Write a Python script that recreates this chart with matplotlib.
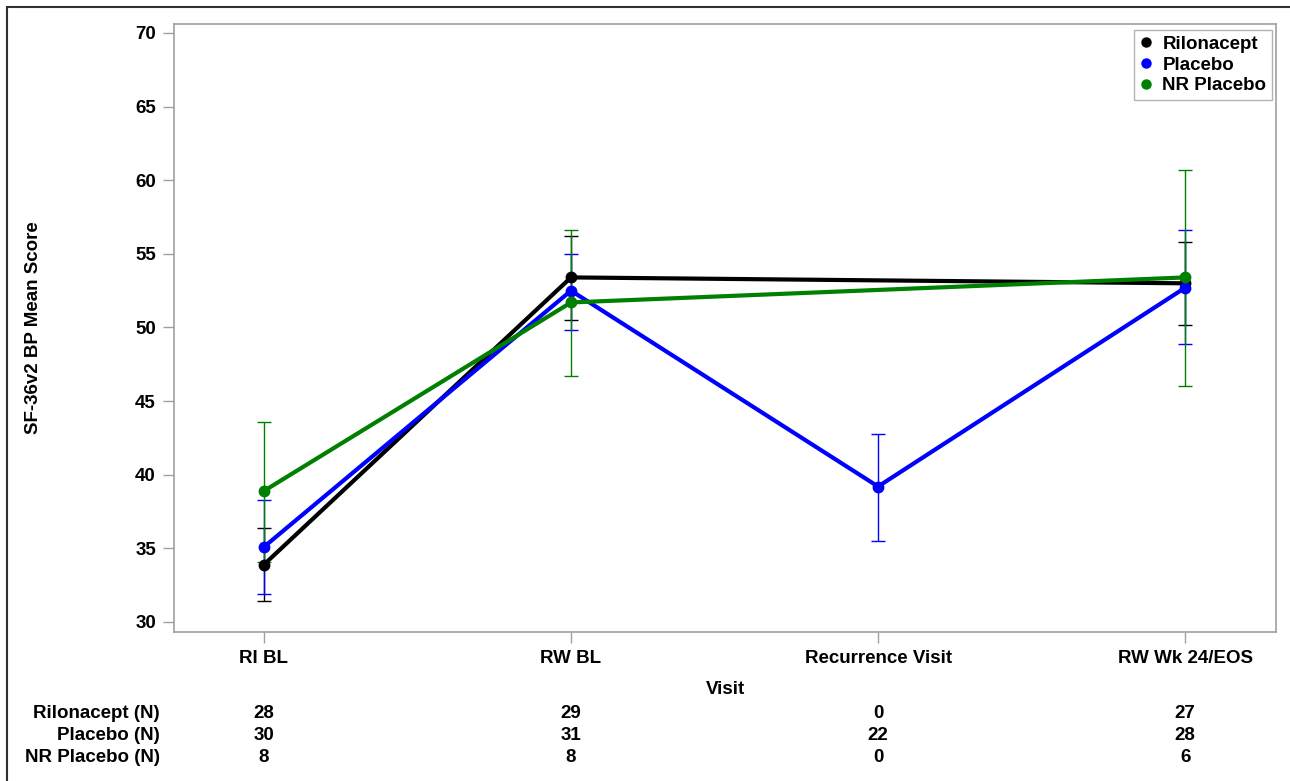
import numpy as np
import matplotlib
matplotlib.use("Agg")
import matplotlib.pyplot as plt
from matplotlib.patches import Rectangle
from matplotlib.lines import Line2D

plt.rcParams['font.family'] = ['Liberation Sans', 'DejaVu Sans']
plt.rcParams['font.weight'] = 'bold'

visits = ["RI BL", "RW BL", "Recurrence Visit", "RW Wk 24/EOS"]
groups = ["Rilonacept", "Placebo", "NR Placebo"]
colors = ["#000000", "#0000ff", "#008000"]

rilonacept_mean = [33.9, 53.4, np.nan, 53.0]
rilonacept_low = [31.4, 50.5, np.nan, 50.2]
rilonacept_high = [36.4, 56.2, np.nan, 55.8]

placebo_mean = [35.1, 52.5, 39.2, 52.7]
placebo_low = [31.9, 49.8, 35.5, 48.9]
placebo_high = [38.3, 55.0, 42.8, 56.6]

nr_placebo_mean = [38.9, 51.7, np.nan, 53.4]
nr_placebo_low = [34.1, 46.7, np.nan, 46.0]
nr_placebo_high = [43.6, 56.6, np.nan, 60.7]

rilonacept_n = [28, 29, 0, 27]
placebo_n = [30, 31, 22, 28]
nr_placebo_n = [8, 8, 0, 6]

means = [rilonacept_mean, placebo_mean, nr_placebo_mean]
lows = [rilonacept_low, placebo_low, nr_placebo_low]
highs = [rilonacept_high, placebo_high, nr_placebo_high]
counts = [rilonacept_n, placebo_n, nr_placebo_n]

FS = 13.5
W, H = 1290, 781
fig = plt.figure(figsize=(W / 100, H / 100), dpi=100)

# plot area in pixel coordinates
left, right, top, bottom = 174, 1276, 24, 632
ax = fig.add_axes([left / W, 1 - bottom / H, (right - left) / W, (bottom - top) / H])

x = np.arange(len(visits))
for mean, lo, hi, col, name in zip(means, lows, highs, colors, groups):
    m = np.array(mean, dtype=float)
    l = np.array(lo, dtype=float)
    h = np.array(hi, dtype=float)
    ok = ~np.isnan(m)
    ax.errorbar(x[ok], m[ok], yerr=[m[ok] - l[ok], h[ok] - m[ok]], fmt='none',
                ecolor=col, elinewidth=1.0, capsize=4.7, capthick=1.0, zorder=2)
    ax.plot(x[ok], m[ok], color=col, lw=3.0, marker='o', ms=7.5, zorder=3,
            solid_joinstyle='round')

ax.set_xlim(-0.293, 3.296)
ax.set_ylim(29.32, 70.61)
ax.set_yticks(np.arange(30, 71, 5))
ax.set_xticks(x)
ax.set_xticklabels(visits)
ax.tick_params(axis='both', direction='out', length=8, width=1, color='#a0a0a0',
               labelsize=FS, pad=5)
for lab in ax.get_xticklabels() + ax.get_yticklabels():
    lab.set_fontweight('bold')
for sp in ax.spines.values():
    sp.set_color('#a0a0a0')
    sp.set_linewidth(1.2)

ax.set_ylabel("SF-36v2 BP Mean Score", fontsize=FS, fontweight='bold')
ax.yaxis.set_label_coords((42 - left) / (right - left), 0.5)

handles = [Line2D([], [], ls='none', marker='o', ms=6.5, color=c) for c in colors]
leg = ax.legend(handles, groups, loc='upper right', fontsize=FS, frameon=True,
                fancybox=False, edgecolor='#a0a0a0', handlelength=0.6,
                handletextpad=0.6, borderpad=0.3, labelspacing=0.2,
                borderaxespad=0.0,
                bbox_to_anchor=((1272 - left) / (right - left),
                                (bottom - 30) / (bottom - top)))
leg.get_frame().set_linewidth(1.0)
for t in leg.get_texts():
    t.set_fontweight('bold')

# x axis title and counts table below the axes
fig.text(((left + right) / 2) / W, 1 - 690 / H, "Visit", ha='center', va='center',
         fontsize=FS, fontweight='bold')
row_y = [713, 735, 757]
for ry, name, ns in zip(row_y, groups, counts):
    fig.text(160 / W, 1 - ry / H, f"{name} (N)", ha='right', va='center',
             fontsize=FS, fontweight='bold')
    for xi, n in zip(x, ns):
        xp = ax.transData.transform((xi, 50))[0]
        fig.text(xp / W, 1 - ry / H, str(n), ha='center', va='center',
                 fontsize=FS, fontweight='bold')

# outer frame
fig.patches.append(Rectangle((7 / W, -0.05), 1.2, 1 - 7 / H + 0.05,
                             transform=fig.transFigure, fill=False,
                             edgecolor='#303030', linewidth=1.5))

fig.savefig("out.png", dpi=100)
